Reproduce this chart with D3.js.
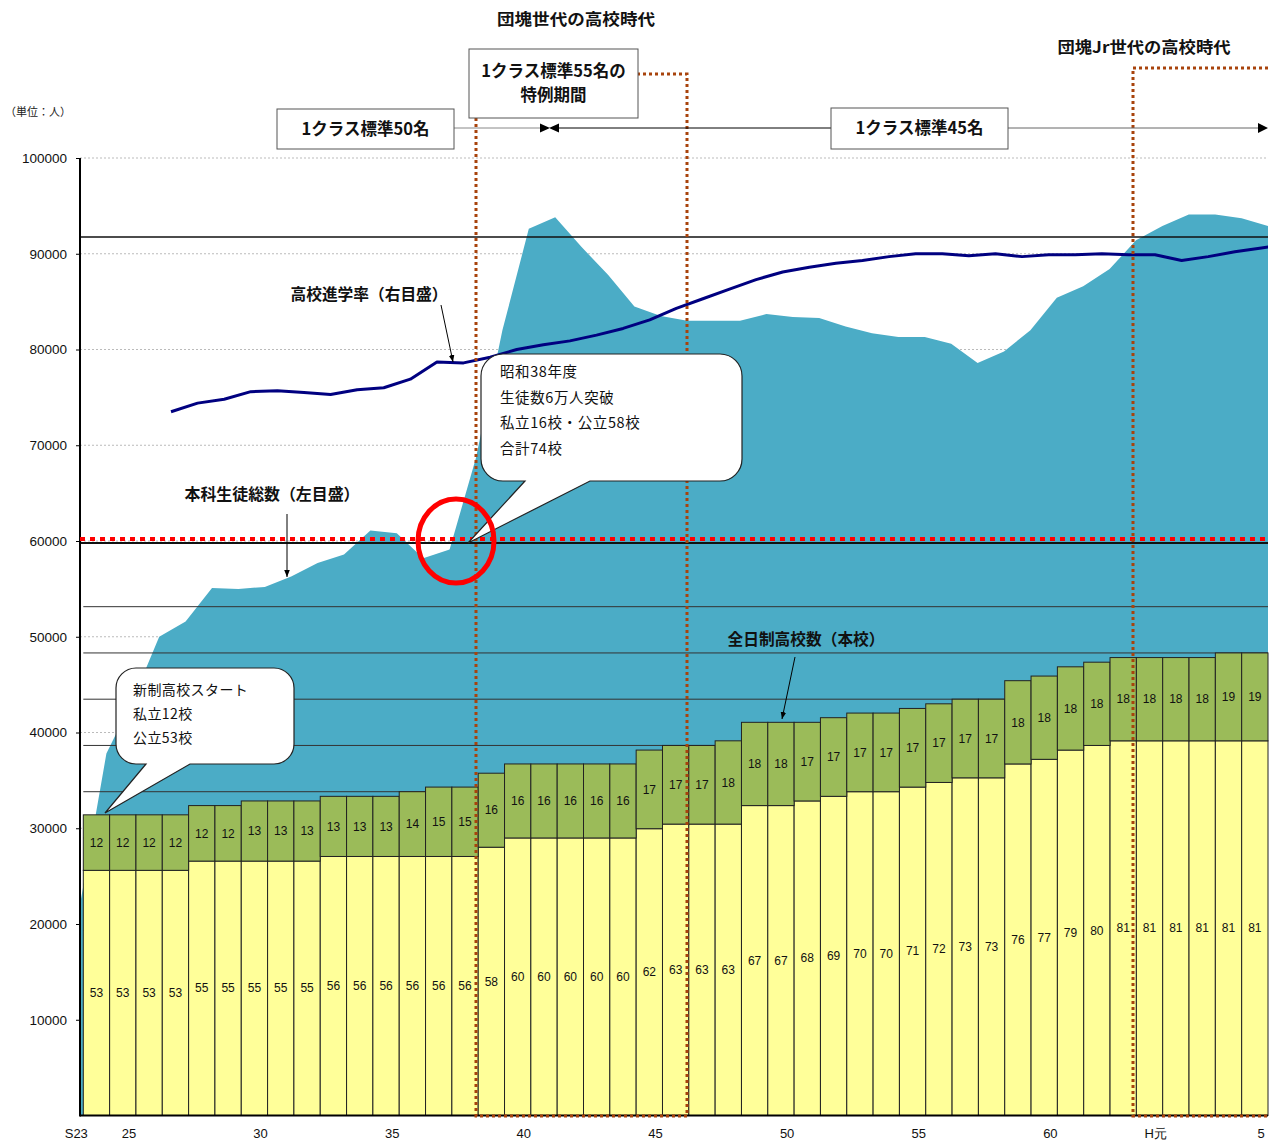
<!DOCTYPE html>
<html>
<head>
<meta charset="utf-8">
<script src="https://cdn.jsdelivr.net/npm/d3@7"></script>
<style>
    body { margin: 0; background: white; }
    svg { display: block; }
    text { font-family: "Liberation Sans", Arial, sans-serif; }
    .jp { font-family: "Noto Sans CJK JP", sans-serif; }
</style>
</head>
<body>
<svg id="chart" width="1274" height="1142"></svg>
<script>
// S23 (1948) .. H4 (1992) - one bar per year
const publicSchools = [53,53,53,53,55,55,55,55,55,56,56,56,56,56,56,58,60,60,60,60,60,62,63,63,63,
    67,67,68,69,70,70,71,72,73,73,76,77,79,80,81,81,81,81,81,81];
const privateSchools = [12,12,12,12,12,12,13,13,13,13,13,13,14,15,15,16,16,16,16,16,16,17,17,17,18,18,18,
    17,17,17,17,17,17,17,17,18,18,18,18,18,18,18,18,19,19];

// students total (left axis), S23 .. H5
const students = [22000,37800,43400,50000,51600,55100,55000,55200,56300,57700,58600,61100,60800,58200,59100,
    68700,82000,92600,93800,90700,87800,84500,83500,83000,83000,83000,83700,83400,83300,82400,81700,
    81300,81300,80600,78600,79800,82000,85400,86600,88400,91400,92900,94100,94100,93700,92900];

// high school entrance rate % (right axis), S26 .. H5
const rateStart = 3;
const entranceRate = [73.5,74.4,74.8,75.6,75.7,75.5,75.3,75.8,76.0,76.9,78.7,78.6,79.2,80.0,80.5,80.9,
    81.5,82.2,83.1,84.3,85.3,86.3,87.3,88.1,88.6,89.0,89.3,89.7,90.0,90.0,89.8,90.0,89.7,89.9,89.9,
    90.0,89.9,89.9,89.3,89.7,90.2,90.6,91.0];

const yearTicks = [
    { i: 0, label: "S23" }, { i: 2, label: "25" }, { i: 7, label: "30" }, { i: 12, label: "35" },
    { i: 17, label: "40" }, { i: 22, label: "45" }, { i: 27, label: "50" }, { i: 32, label: "55" },
    { i: 37, label: "60" }, { i: 41, label: "H元" }, { i: 45, label: "5" }
];
const leftTicks = [10000,20000,30000,40000,50000,60000,70000,80000,90000,100000];
const schoolGrid = [10,20,30,40,50,60,70,80,90,100,110];

const svg = d3.select("#chart");
const plotLeft = 80, plotRight = 1268, plotTop = 158, plotBottom = 1115.5;

const y = d3.scaleLinear().domain([0, 100000]).range([plotBottom, plotTop]);
const ySchool = d3.scaleLinear().domain([0, 207]).range([plotBottom, plotTop]);
const yRate = d3.scaleLinear().domain([0, 100]).range([plotBottom, plotTop]);

const xBar = d3.scaleBand().domain(d3.range(publicSchools.length)).range([83.3, plotRight]).padding(0);
const xArea = d3.scaleLinear().domain([0, students.length - 1]).range([plotLeft, plotRight]);
const xRate = d3.scaleLinear().domain([rateStart, rateStart + entranceRate.length - 1]).range([171, 1288]);

svg.append("defs").append("clipPath").attr("id", "plotClip")
    .append("rect").attr("x", plotLeft).attr("y", 0).attr("width", plotRight - plotLeft).attr("height", plotBottom);

svg.select("defs").append("marker")
    .attr("id", "arrow").attr("viewBox", "0 0 10 10").attr("refX", 10).attr("refY", 5)
    .attr("markerWidth", 7).attr("markerHeight", 7).attr("orient", "auto")
    .append("path").attr("d", "M0,1 L10,5 L0,9 Z").attr("fill", "#000");

// dotted grid for left axis
svg.append("g").selectAll("line").data(leftTicks).enter().append("line")
    .attr("x1", plotLeft).attr("x2", plotRight)
    .attr("y1", d => y(d)).attr("y2", d => y(d))
    .attr("stroke", "#bbb").attr("stroke-width", 1).attr("stroke-dasharray", "2,2");

// students area
const area = d3.area()
    .x((d, i) => xArea(i))
    .y0(plotBottom)
    .y1(d => y(d));
svg.append("path").datum(students)
    .attr("d", area)
    .attr("fill", "#4BACC6");

// school axis grid lines
svg.append("g").selectAll("line").data(schoolGrid).enter().append("line")
    .attr("x1", 83.3).attr("x2", plotRight)
    .attr("y1", d => ySchool(d)).attr("y2", d => ySchool(d))
    .attr("stroke", "#333").attr("stroke-width", 1);

// reference lines
svg.append("line").attr("x1", plotLeft).attr("x2", plotRight)
    .attr("y1", y(91750)).attr("y2", y(91750)).attr("stroke", "#111").attr("stroke-width", 1.5);
svg.append("line").attr("x1", plotLeft).attr("x2", plotRight)
    .attr("y1", y(59800)).attr("y2", y(59800)).attr("stroke", "#111").attr("stroke-width", 2);

// stacked bars
const bars = svg.append("g");
bars.selectAll("rect.pub").data(publicSchools).enter().append("rect")
    .attr("class", "pub")
    .attr("x", (d, i) => xBar(i)).attr("width", xBar.bandwidth())
    .attr("y", d => ySchool(d)).attr("height", d => plotBottom - ySchool(d))
    .attr("fill", "#FFFF99").attr("stroke", "#222").attr("stroke-width", 1);
bars.selectAll("rect.pri").data(privateSchools).enter().append("rect")
    .attr("class", "pri")
    .attr("x", (d, i) => xBar(i)).attr("width", xBar.bandwidth())
    .attr("y", (d, i) => ySchool(publicSchools[i] + d))
    .attr("height", (d, i) => ySchool(publicSchools[i]) - ySchool(publicSchools[i] + d))
    .attr("fill", "#9BBB59").attr("stroke", "#222").attr("stroke-width", 1);

bars.selectAll("text.pub").data(publicSchools).enter().append("text")
    .attr("x", (d, i) => xBar(i) + xBar.bandwidth() / 2)
    .attr("y", d => (ySchool(d) + plotBottom) / 2)
    .attr("text-anchor", "middle").attr("dy", "0.35em")
    .attr("font-size", "12px").attr("fill", "#111")
    .text(d => d);
bars.selectAll("text.pri").data(privateSchools).enter().append("text")
    .attr("x", (d, i) => xBar(i) + xBar.bandwidth() / 2)
    .attr("y", (d, i) => (ySchool(publicSchools[i] + d) + ySchool(publicSchools[i])) / 2)
    .attr("text-anchor", "middle").attr("dy", "0.35em")
    .attr("font-size", "12px").attr("fill", "#111")
    .text(d => d);

// entrance rate line
const rateLine = d3.line()
    .x((d, i) => xRate(rateStart + i))
    .y(d => yRate(d));
svg.append("path").datum(entranceRate)
    .attr("clip-path", "url(#plotClip)")
    .attr("d", rateLine)
    .attr("fill", "none").attr("stroke", "#000080").attr("stroke-width", 3)
    .attr("stroke-linejoin", "round");

// axes
const yAxis = d3.axisLeft(y).tickValues(leftTicks).tickSize(4).tickPadding(9).tickFormat(d3.format("d"));
const gy = svg.append("g").attr("transform", `translate(${plotLeft},0)`).call(yAxis);
gy.select(".domain").remove();
gy.selectAll("text").attr("font-size", "13.5px").attr("fill", "#111")
    .style("font-family", "'Liberation Sans', Arial, sans-serif");
svg.append("line").attr("x1", plotLeft).attr("x2", plotLeft).attr("y1", plotTop).attr("y2", plotBottom + 1)
    .attr("stroke", "#000").attr("stroke-width", 2);
svg.append("line").attr("x1", plotLeft).attr("x2", plotRight).attr("y1", plotBottom).attr("y2", plotBottom)
    .attr("stroke", "#000").attr("stroke-width", 2);

svg.append("g").selectAll("text").data(yearTicks).enter().append("text")
    .attr("x", d => xBar.range()[0] + d.i * xBar.step() - 7)
    .attr("y", 1133).attr("dy", "0.35em")
    .attr("text-anchor", "middle").attr("font-size", "13px").attr("fill", "#111")
    .text(d => d.label);

svg.append("text").attr("class", "jp").attr("x", 38).attr("y", 112).attr("dy", "0.35em")
    .attr("text-anchor", "middle").attr("font-size", "11px").attr("fill", "#222")
    .text("（単位：人）");

// 60000 marker line
svg.append("line").attr("x1", plotLeft).attr("x2", plotRight)
    .attr("y1", y(60200)).attr("y2", y(60200))
    .attr("stroke", "#FF0000").attr("stroke-width", 4).attr("stroke-dasharray", "5,5");

// dotted periods
const brown = "#A8430C";
svg.append("path").attr("d", "M476,118 V1116 H687 V74 H638")
    .attr("fill", "none").attr("stroke", brown).attr("stroke-width", 3).attr("stroke-dasharray", "3,3");
svg.append("path").attr("d", "M1268,68 H1133 V1116 H1268")
    .attr("fill", "none").attr("stroke", brown).attr("stroke-width", 3).attr("stroke-dasharray", "3,3");

// callouts
function callout(x, y0, w, h, r, t1, t2, tipX, tipY) {
    return `M${x + r},${y0} H${x + w - r} A${r},${r} 0 0 1 ${x + w},${y0 + r} V${y0 + h - r}` +
        ` A${r},${r} 0 0 1 ${x + w - r},${y0 + h} H${t2} L${tipX},${tipY} L${t1},${y0 + h}` +
        ` H${x + r} A${r},${r} 0 0 1 ${x},${y0 + h - r} V${y0 + r} A${r},${r} 0 0 1 ${x + r},${y0} Z`;
}
svg.append("path").attr("d", callout(481, 354, 261, 127, 22, 525, 590, 468, 543))
    .attr("fill", "white").attr("stroke", "#222").attr("stroke-width", 1.2);
svg.append("path").attr("d", callout(116, 668, 178, 96, 20, 146, 190, 105, 813))
    .attr("fill", "white").attr("stroke", "#222").attr("stroke-width", 1.2);

const note1 = ["昭和38年度", "生徒数6万人突破", "私立16校・公立58校", "合計74校"];
svg.append("g").selectAll("text").data(note1).enter().append("text")
    .attr("class", "jp").attr("x", 500).attr("y", (d, i) => 372 + i * 25.7).attr("dy", "0.35em")
    .attr("font-size", "14.5px").attr("letter-spacing", "0.6px").attr("fill", "#111").text(d => d);
const note2 = ["新制高校スタート", "私立12校", "公立53校"];
svg.append("g").selectAll("text").data(note2).enter().append("text")
    .attr("class", "jp").attr("x", 133).attr("y", (d, i) => 690 + i * 24).attr("dy", "0.35em")
    .attr("font-size", "14px").attr("letter-spacing", "0.4px").attr("fill", "#111").text(d => d);

// red circle
svg.append("ellipse").attr("cx", 456).attr("cy", 541).attr("rx", 38).attr("ry", 42)
    .attr("fill", "none").attr("stroke", "#FF0000").attr("stroke-width", 5);

// class size boxes
const boxes = [
    { x: 277, y: 109, w: 177, h: 40, lines: ["1クラス標準50名"] },
    { x: 469, y: 49, w: 169, h: 69, lines: ["1クラス標準55名の", "特例期間"] },
    { x: 831, y: 108, w: 177, h: 41, lines: ["1クラス標準45名"] }
];
svg.append("line").attr("x1", 454).attr("x2", 541).attr("y1", 128).attr("y2", 128).attr("stroke", "#888");
svg.append("line").attr("x1", 558).attr("x2", 831).attr("y1", 128).attr("y2", 128).attr("stroke", "#000");
svg.append("line").attr("x1", 1008).attr("x2", 1259).attr("y1", 128).attr("y2", 128).attr("stroke", "#666");
svg.append("path").attr("d", "M540,123.5 L550,128 L540,132.5 Z M559,123.5 L549,128 L559,132.5 Z M1258,123 L1268,128 L1258,133 Z")
    .attr("fill", "#000");

boxes.forEach(b => {
    svg.append("rect").attr("x", b.x).attr("y", b.y).attr("width", b.w).attr("height", b.h)
        .attr("fill", "white").attr("stroke", "#555").attr("stroke-width", 1);
    const top = b.y + b.h / 2 - (b.lines.length - 1) * 12;
    b.lines.forEach((t, i) => {
        svg.append("text").attr("class", "jp")
            .attr("x", b.x + b.w / 2).attr("y", top + i * 24).attr("dy", "0.35em")
            .attr("text-anchor", "middle").attr("font-size", "16.5px").attr("font-weight", "bold")
            .attr("fill", "#111").text(t);
    });
});

// titles and series labels
const labels = [
    { x: 576, y: 19, w: 158, t: "団塊世代の高校時代" },
    { x: 1144, y: 47, w: 173, t: "団塊Jr世代の高校時代" },
    { x: 369, y: 294, w: 157, t: "高校進学率（右目盛）" },
    { x: 272, y: 494, w: 175, t: "本科生徒総数（左目盛）" },
    { x: 806, y: 639, w: 157, t: "全日制高校数（本校）" }
];
svg.append("g").selectAll("text").data(labels).enter().append("text")
    .attr("class", "jp").attr("x", d => d.x).attr("y", d => d.y).attr("dy", "0.35em")
    .attr("text-anchor", "middle").attr("font-size", "16px").attr("font-weight", "bold")
    .attr("fill", "#111")
    .attr("textLength", d => d.w).attr("lengthAdjust", "spacingAndGlyphs")
    .text(d => d.t);

const pointers = [
    [441, 305, 453, 362],
    [287, 514, 287, 577],
    [795, 657, 782, 719]
];
svg.append("g").selectAll("line").data(pointers).enter().append("line")
    .attr("x1", d => d[0]).attr("y1", d => d[1]).attr("x2", d => d[2]).attr("y2", d => d[3])
    .attr("stroke", "#000").attr("stroke-width", 1).attr("marker-end", "url(#arrow)");
</script>
</body>
</html>
